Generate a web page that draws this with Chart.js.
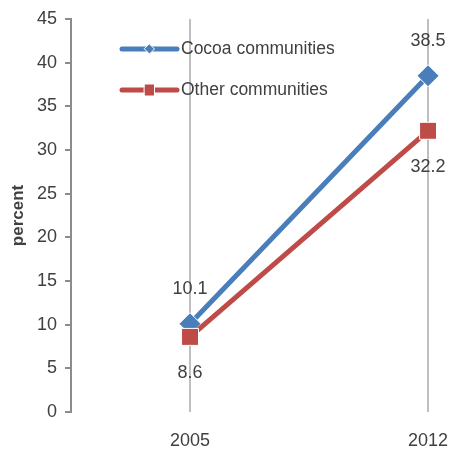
<!DOCTYPE html>
<html>
<head>
<meta charset="utf-8">
<script src="https://cdn.jsdelivr.net/npm/chart.js@4.4.0/dist/chart.umd.min.js"></script>
<style>
  html, body { margin: 0; padding: 0; background: #fff; }
  #wrap { width: 449px; height: 450px; }
</style>
</head>
<body>
<div id="wrap"><canvas id="line-chart" width="449" height="450"></canvas></div>
<script>
var years = ["2005", "2012"];
var cocoa = [10.1, 38.5];
var other = [8.6, 32.2];
var yTicks = [0, 5, 10, 15, 20, 25, 30, 35, 40, 45];

var FONT = "'Liberation Sans', Arial, sans-serif";
var TXT = "#404040";

function pts(arr) {
    return arr.map(function (v, i) { return { x: i, y: v }; });
}

// data labels: above for cocoa, below for other
var labelPlugin = {
    id: "labels",
    afterDatasetsDraw: function (chart) {
        var ctx = chart.ctx;
        ctx.save();
        ctx.font = "18px " + FONT;
        ctx.fillStyle = TXT;
        ctx.textAlign = "center";
        ctx.textBaseline = "middle";
        chart.data.datasets.forEach(function (ds, di) {
            chart.getDatasetMeta(di).data.forEach(function (p, i) {
                var v = ds.data[i].y.toFixed(1);
                if (di === 0) {
                    ctx.fillText(v, p.x, p.y - 35);
                } else {
                    ctx.fillText(v, p.x, p.y + 36);
                }
            });
        });
        ctx.restore();
    }
};

// legend drawn inside plot like the original
var legendPlugin = {
    id: "inLegend",
    afterDraw: function (chart) {
        var ctx = chart.ctx;
        ctx.save();
        var x0 = 122, x1 = 177;
        var rows = [49, 90];
        chart.data.datasets.forEach(function (ds, di) {
            var y = rows[di];
            ctx.strokeStyle = ds.borderColor;
            ctx.lineWidth = 5;
            ctx.lineCap = "round";
            ctx.beginPath();
            ctx.moveTo(x0, y);
            ctx.lineTo(x1, y);
            ctx.stroke();
            ctx.fillStyle = ds.backgroundColor;
            ctx.strokeStyle = "#ffffff";
            ctx.lineWidth = 1;
            var cx = (x0 + x1) / 2;
            ctx.beginPath();
            if (ds.pointStyle === "rectRot") {
                ctx.moveTo(cx, y - 5); ctx.lineTo(cx + 5, y); ctx.lineTo(cx, y + 5); ctx.lineTo(cx - 5, y);
            } else {
                ctx.rect(cx - 5, y - 6, 10, 12);
            }
            ctx.closePath();
            ctx.fill();
            ctx.stroke();
            ctx.font = "17.5px " + FONT;
            ctx.fillStyle = TXT;
            ctx.textAlign = "left";
            ctx.textBaseline = "middle";
            ctx.fillText(ds.label, x1 + 4, y);
        });
        ctx.restore();
    }
};

new Chart(document.getElementById("line-chart"), {
    type: "line",
    data: {
        datasets: [{
            data: pts(cocoa),
            label: "Cocoa communities",
            order: 1,
            borderColor: "#4a7ebb",
            backgroundColor: "#4a7ebb",
            pointBorderColor: "#ffffff",
            pointBorderWidth: 1,
            pointStyle: "rectRot",
            pointRadius: 11,
            borderWidth: 5,
            lineTension: 0,
            fill: false
        }, {
            data: pts(other),
            label: "Other communities",
            order: 0,
            borderColor: "#be4b48",
            backgroundColor: "#be4b48",
            pointBorderColor: "#ffffff",
            pointBorderWidth: 1,
            pointStyle: "rect",
            pointRadius: 12,
            borderWidth: 5,
            lineTension: 0,
            fill: false
        }]
    },
    options: {
        responsive: false,
        animation: false,
        layout: { autoPadding: false, padding: { top: 19, left: 8, right: 0, bottom: 0 } },
        plugins: {
            legend: { display: false },
            tooltip: { enabled: false },
            title: { display: false }
        },
        scales: {
            x: {
                type: "linear",
                min: -0.5,
                max: 1.088,
                afterBuildTicks: function (s) {
                    s.ticks = years.map(function (y, i) { return { value: i }; });
                },
                afterFit: function (s) {
                    s.height = 38;
                    s.paddingLeft = 0;
                    s.paddingRight = 0;
                },
                ticks: {
                    callback: function (v) { return years[v]; },
                    color: TXT,
                    font: { family: FONT, size: 18 },
                    padding: 18,
                    maxRotation: 0
                },
                grid: { color: "#bfbfbf", lineWidth: 2, drawTicks: false },
                border: { display: false }
            },
            y: {
                min: 0,
                max: 45,
                afterBuildTicks: function (s) {
                    s.ticks = yTicks.map(function (v) { return { value: v }; });
                },
                afterFit: function (s) {
                    s.width = 63;
                    s.paddingTop = 0;
                    s.paddingBottom = 0;
                },
                ticks: {
                    color: TXT,
                    font: { family: FONT, size: 18 },
                    padding: 8
                },
                grid: {
                    drawOnChartArea: false,
                    drawTicks: true,
                    tickLength: 6,
                    color: "#8c8c8c",
                    lineWidth: 2
                },
                border: { display: true, color: "#8c8c8c", width: 2 },
                title: {
                    display: true,
                    text: "percent",
                    color: TXT,
                    font: { family: FONT, size: 17, weight: "bold" },
                    padding: 0
                }
            }
        }
    },
    plugins: [labelPlugin, legendPlugin]
});
</script>
</body>
</html>
